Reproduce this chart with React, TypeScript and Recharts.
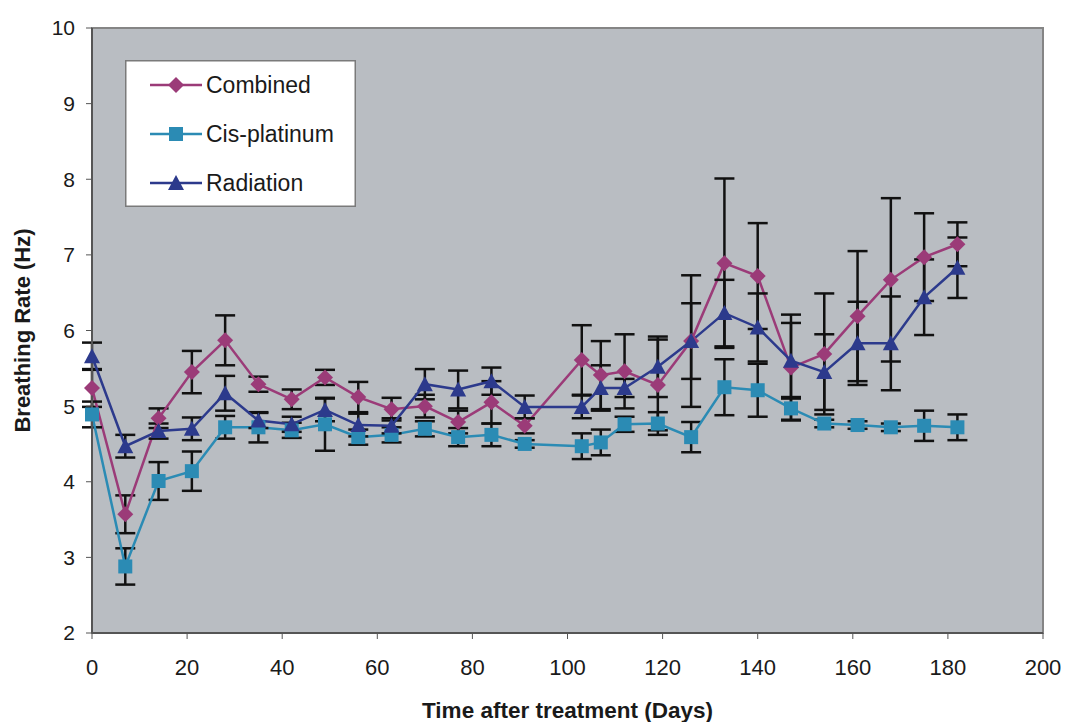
import React from 'react';
import { ComposedChart, Line, XAxis, YAxis, ErrorBar, ReferenceArea, Legend } from 'recharts';

const days = [0, 7, 14, 21, 28, 35, 42, 49, 56, 63, 70, 77, 84, 91, 103, 107, 112, 119, 126, 133, 140, 147, 154, 161, 168, 175, 182];
const combined = [5.24, 3.57, 4.84, 5.45, 5.87, 5.29, 5.09, 5.38, 5.12, 4.96, 5.0, 4.79, 5.05, 4.74, 5.61, 5.41, 5.46, 5.28, 5.86, 6.89, 6.72, 5.51, 5.69, 6.19, 6.67, 6.97, 7.14];
const combinedErr = [0.25, 0.25, 0.13, 0.28, 0.33, 0.1, 0.13, 0.1, 0.2, 0.15, 0.15, 0.15, 0.28, 0.1, 0.46, 0.45, 0.49, 0.6, 0.87, 1.12, 0.7, 0.7, 0.8, 0.86, 1.08, 0.58, 0.29];
const cis = [4.89, 2.88, 4.01, 4.14, 4.72, 4.72, 4.68, 4.76, 4.59, 4.62, 4.7, 4.59, 4.62, 4.5, 4.47, 4.52, 4.76, 4.77, 4.59, 5.25, 5.21, 4.97, 4.77, 4.75, 4.72, 4.74, 4.72];
const cisErr = [0.17, 0.24, 0.25, 0.26, 0.15, 0.2, 0.1, 0.35, 0.1, 0.1, 0.1, 0.12, 0.15, 0.05, 0.17, 0.17, 0.1, 0.15, 0.2, 0.37, 0.35, 0.15, 0.05, 0.05, 0.05, 0.2, 0.17];
const radiation = [5.66, 4.47, 4.67, 4.7, 5.17, 4.81, 4.76, 4.95, 4.75, 4.74, 5.29, 5.22, 5.33, 4.99, 4.99, 5.24, 5.24, 5.52, 5.86, 6.23, 6.04, 5.6, 5.45, 5.83, 5.83, 6.44, 6.83];
const radiationErr = [0.18, 0.15, 0.1, 0.15, 0.23, 0.1, 0.1, 0.15, 0.15, 0.1, 0.2, 0.25, 0.18, 0.15, 0.15, 0.3, 0.12, 0.4, 0.5, 0.44, 0.45, 0.5, 0.5, 0.55, 0.62, 0.5, 0.4];
const xTicks = [0, 20, 40, 60, 80, 100, 120, 140, 160, 180, 200];
const yTicks = [2, 3, 4, 5, 6, 7, 8, 9, 10];

const COMBINED = '#9b3b78';
const CIS = '#2b8bb4';
const RADIATION = '#2c3a8c';
const FONT = '"Liberation Sans", Arial, sans-serif';

const data = days.map((d, i) => ({
  day: d,
  combined: combined[i],
  combinedErr: combinedErr[i],
  cis: cis[i],
  cisErr: cisErr[i],
  radiation: radiation[i],
  radiationErr: radiationErr[i],
}));

const Diamond = (props: any) => {
  const { cx, cy, fill } = props;
  if (cx == null || cy == null) return null;
  const r = 8;
  return <polygon points={`${cx},${cy - r} ${cx + r},${cy} ${cx},${cy + r} ${cx - r},${cy}`} fill={fill} />;
};
const Square = (props: any) => {
  const { cx, cy, fill } = props;
  if (cx == null || cy == null) return null;
  const r = 7;
  return <rect x={cx - r} y={cy - r} width={2 * r} height={2 * r} fill={fill} />;
};
const Triangle = (props: any) => {
  const { cx, cy, fill } = props;
  if (cx == null || cy == null) return null;
  const r = 8;
  return <polygon points={`${cx},${cy - r} ${cx + r},${cy + r - 1} ${cx - r},${cy + r - 1}`} fill={fill} />;
};

const legendItems = [
  { name: 'Combined', color: COMBINED, Shape: Diamond },
  { name: 'Cis-platinum', color: CIS, Shape: Square },
  { name: 'Radiation', color: RADIATION, Shape: Triangle },
];

const LegendBox = () => (
  <svg width={232} height={148} style={{ display: 'block' }}>
    <rect x={0.75} y={0.75} width={229.5} height={145.5} fill="#ffffff" stroke="#7a7a7a" strokeWidth={1.5} />
    {legendItems.map((it, i) => {
      const y = 25 + i * 49;
      return (
        <g key={it.name}>
          <line x1={25} x2={77} y1={y} y2={y} stroke={it.color} strokeWidth={2.5} />
          <it.Shape cx={51} cy={y} fill={it.color} />
          <text x={81} y={y + 8} fontSize={23} fontFamily={FONT} fill="#1a1a1a">{it.name}</text>
        </g>
      );
    })}
  </svg>
);

export default function App() {
  return (
    <div style={{ position: 'absolute', left: 0, top: 0, width: 1065, height: 722, background: '#ffffff' }}>
      <ComposedChart width={1065} height={722} data={data} margin={{ top: 28, right: 22, bottom: 0, left: 0 }}>
        <ReferenceArea x1={0} x2={200} y1={2} y2={10} fill="#b9bdc2" fillOpacity={1} stroke="#858585" strokeWidth={2} ifOverflow="extendDomain" />
        <XAxis
          dataKey="day"
          type="number"
          domain={[0, 200]}
          ticks={xTicks}
          height={89}
          axisLine={{ stroke: '#555', strokeWidth: 2 }}
          tickLine={{ stroke: '#555' }}
          tickSize={6}
          tick={{ fontSize: 22, fontFamily: FONT, fill: '#1a1a1a' }}
          tickMargin={20}
          label={{ value: 'Time after treatment (Days)', position: 'insideBottom', offset: 4, style: { fontSize: 22.5, fontWeight: 'bold', fontFamily: FONT, fill: '#1a1a1a' } }}
        />
        <YAxis
          type="number"
          domain={[2, 10]}
          ticks={yTicks}
          width={92}
          axisLine={{ stroke: '#555', strokeWidth: 2 }}
          tickLine={{ stroke: '#555' }}
          tickSize={6}
          tick={{ fontSize: 21, fontFamily: FONT, fill: '#1a1a1a' }}
          tickMargin={11}
          label={{ value: 'Breathing Rate (Hz)', angle: -90, position: 'insideLeft', offset: 22, style: { fontSize: 22, fontWeight: 'bold', fontFamily: FONT, fill: '#1a1a1a', textAnchor: 'middle' } }}
        />
        <Legend
          layout="vertical"
          verticalAlign="middle"
          align="center"
          content={() => <LegendBox />}
          wrapperStyle={{ position: 'absolute', left: 125, top: 60, width: 232, height: 148, margin: 0 }}
        />
        <Line dataKey="combined" name="Combined" stroke={COMBINED} strokeWidth={2.5} dot={<Diamond fill={COMBINED} />} isAnimationActive={false}>
          <ErrorBar dataKey="combinedErr" width={10} stroke="#111" strokeWidth={2.5} direction="y" />
        </Line>
        <Line dataKey="cis" name="Cis-platinum" stroke={CIS} strokeWidth={2.5} dot={<Square fill={CIS} />} isAnimationActive={false}>
          <ErrorBar dataKey="cisErr" width={10} stroke="#111" strokeWidth={2.5} direction="y" />
        </Line>
        <Line dataKey="radiation" name="Radiation" stroke={RADIATION} strokeWidth={2.5} dot={<Triangle fill={RADIATION} />} isAnimationActive={false}>
          <ErrorBar dataKey="radiationErr" width={10} stroke="#111" strokeWidth={2.5} direction="y" />
        </Line>
      </ComposedChart>
    </div>
  );
}
